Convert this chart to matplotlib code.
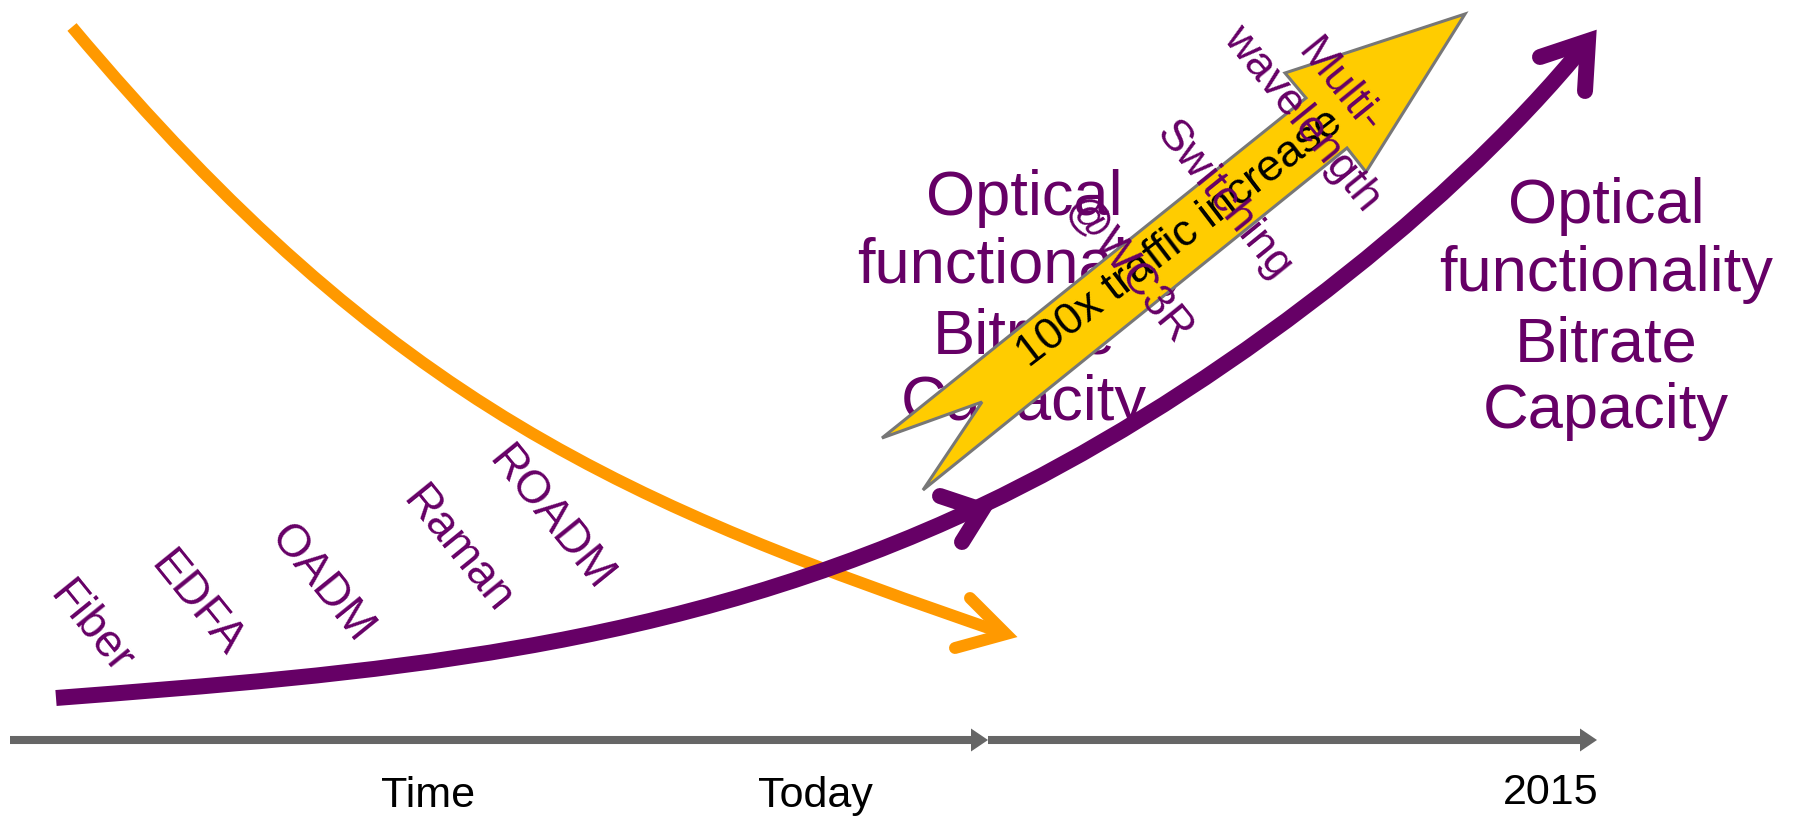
import matplotlib
matplotlib.use("Agg")
import matplotlib.pyplot as plt
from matplotlib.path import Path
from matplotlib.patches import PathPatch, Polygon

plt.rcParams['font.family'] = ['Liberation Sans', 'DejaVu Sans']

PURPLE = '#660066'
ORANGE = '#FF9900'
YELLOW = '#FFCC00'
GREY = '#666666'

# canvas is laid out in pixel units (x right, y down)
W, H = 1795, 822

# rising "capability" curve: two cubic segments (anchor, ctrl, ctrl, anchor, ctrl, ctrl, anchor)
purple_x = [56, 366, 673, 983, 1188, 1440, 1588]
purple_y = [698, 674, 652, 505, 408, 224, 41]
purple_mid_head = ([940, 982, 962], [496, 510, 542])
purple_end_head = ([1540, 1588, 1585], [57, 41, 91])

# falling "cost" curve: one cubic segment
orange_x = [72, 392, 630, 1006]
orange_y = [27, 408, 505, 634]
orange_head = ([970, 1006, 955], [598, 634, 648])

# block arrow outline
block_x = [882, 1306, 1285, 1465, 1366, 1347, 923, 982]
block_y = [438, 98, 73, 14, 172, 148, 490, 402]

# technology milestones along the curve
stages = ['Fiber', 'EDFA', 'OADM', 'Raman', 'ROADM']
stage_x = [90, 196, 322, 457, 550]
stage_y = [628, 604, 584, 550, 519]

future = ['Switching', 'Multi-', 'wavelength', '@WC3R']
future_x = [1224, 1340, 1302, 1128]
future_y = [201, 87, 119, 271]

summary = ['Optical', 'functionality', 'Bitrate', 'Capacity']
summary_base = [215, 283, 353, 420]
summary_cx = [1024, 1606]
summary_dy = [0, 8]

axis_ticks = ['Time', 'Today', '2015']
axis_tick_x = [428, 815, 1551]
axis_tick_y = [807, 807, 804]
axis_y = 740
axis_segments = [(10, 988), (988, 1597)]

fig = plt.figure(figsize=(W / 100, H / 100), dpi=100)
ax = fig.add_axes([0, 0, 1, 1])
ax.set_xlim(0, W)
ax.set_ylim(H, 0)
ax.axis('off')

# time axis: flat bar with a small filled head at the end of each stretch
head_len, head_half = 17, 11.5
for x0, x1 in axis_segments:
    ax.plot([x0, x1 - head_len], [axis_y, axis_y], color=GREY, lw=5.8,
            solid_capstyle='butt', zorder=1)
    ax.fill([x1 - head_len, x1, x1 - head_len],
            [axis_y - head_half, axis_y, axis_y + head_half],
            color=GREY, lw=0, zorder=1)
for lab, x, y in zip(axis_ticks, axis_tick_x, axis_tick_y):
    ax.text(x, y, lab, fontsize=31, ha='center', va='baseline', color='black')

# orange curve
op = Path(list(zip(orange_x, orange_y)),
          [Path.MOVETO, Path.CURVE4, Path.CURVE4, Path.CURVE4])
ax.add_patch(PathPatch(op, fill=False, edgecolor=ORANGE, lw=8.6,
                       capstyle='butt', zorder=2))
ax.plot(*orange_head, color=ORANGE, lw=8.6, solid_joinstyle='miter',
        solid_capstyle='round', zorder=2)

# purple curve
pp = Path(list(zip(purple_x, purple_y)),
          [Path.MOVETO] + [Path.CURVE4] * 6)
ax.add_patch(PathPatch(pp, fill=False, edgecolor=PURPLE, lw=11.5,
                       capstyle='butt', zorder=3))
for hx, hy in (purple_mid_head, purple_end_head):
    ax.plot(hx, hy, color=PURPLE, lw=11.5, solid_joinstyle='miter',
            solid_capstyle='round', zorder=6)

# summary text blocks
for cx, dy in zip(summary_cx, summary_dy):
    for word, yb in zip(summary, summary_base):
        ax.text(cx, yb + dy, word, fontsize=45.5, color=PURPLE,
                ha='center', va='baseline', zorder=4)

# traffic block arrow
ax.add_patch(Polygon(list(zip(block_x, block_y)), closed=True,
                     facecolor=YELLOW, edgecolor='#777777', lw=2.2,
                     joinstyle='miter', zorder=5))
ax.text(1187, 247, '100x traffic increase', fontsize=32, rotation=37.4,
        rotation_mode='anchor', ha='center', va='baseline', color='black',
        zorder=7)

# milestone labels
for lab, x, y in zip(stages, stage_x, stage_y):
    ax.text(x, y, lab, fontsize=33, rotation=-51, ha='center', va='center',
            color=PURPLE, zorder=4)
for lab, x, y in zip(future, future_x, future_y):
    ax.text(x, y, lab, fontsize=32, rotation=-51, ha='center', va='center',
            color=PURPLE, zorder=8)

fig.savefig('out.png', dpi=100)
